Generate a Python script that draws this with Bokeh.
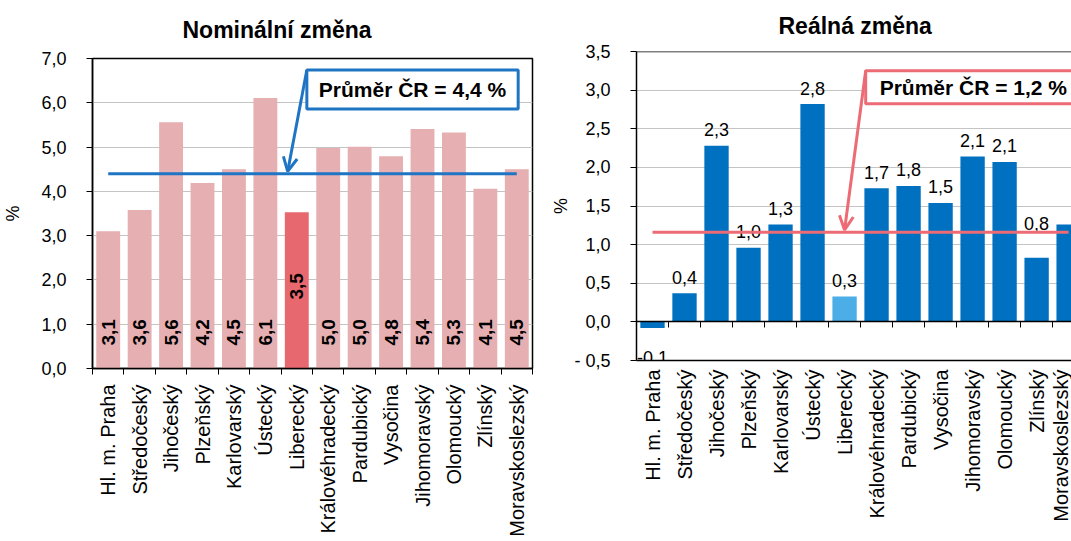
import math
from bokeh.plotting import figure
from bokeh.layouts import row
from bokeh.models import (Range1d, FixedTicker, LinearAxis, Span, Label, Arrow,
                          OpenHead, ColumnDataSource)
from bokeh.core.properties import value
from bokeh.embed import file_html
from bokeh.resources import INLINE

# ---------------- data ----------------
regions = ["Hl. m. Praha", "Středočeský", "Jihočeský", "Plzeňský", "Karlovarský",
           "Ústecký", "Liberecký", "Královéhradecký", "Pardubický", "Vysočina",
           "Jihomoravský", "Olomoucký", "Zlínský", "Moravskoslezský"]
nominal = [3.10, 3.58, 5.56, 4.19, 4.50, 6.11, 3.53, 4.98, 5.01, 4.79, 5.41, 5.33, 4.06, 4.50]
real = [-0.08, 0.37, 2.28, 0.96, 1.26, 2.82, 0.33, 1.73, 1.76, 1.54, 2.14, 2.07, 0.83, 1.26]
nominal_avg = 4.4
real_avg = 1.16
highlight = "Liberecký"
nominal_ticks = [0, 1, 2, 3, 4, 5, 6, 7]
real_ticks = [-0.5, 0.0, 0.5, 1.0, 1.5, 2.0, 2.5, 3.0, 3.5]
title_nominal = "Nominální změna"
title_real = "Reálná změna"

# ---------------- style ----------------
FONT = "Liberation Sans"
PINK = "#E6AFB2"
PINK_HI = "#E8686F"
BLUE = "#0070C0"
BLUE_HI = "#4BAEE6"
AVG_BLUE = "#1F75C4"
AVG_RED = "#EC6B74"
GRID = "#C4C4C4"
BAR_W = 0.76
label_lift = {"Zlínský": 18}

def fmt(v):
    return f"{v:.1f}".replace(".", ",")

def fmt_tick(v):
    return ("- " + fmt(abs(v))) if v < 0 else fmt(v)

n = len(regions)
idx = list(range(n))
hi = regions.index(highlight)
bounds = [i - 0.5 for i in range(n + 1)]


def style_common(p, yticks, title_offset, title_standoff):
    p.title.text_font = FONT
    p.title.text_font_size = "23px"
    p.title.text_font_style = "bold"
    p.title.text_color = "black"
    p.title.align = "left"
    p.title.offset = title_offset
    p.title.vertical_align = "top"
    p.title.standoff = title_standoff
    p.xgrid.visible = False
    p.ygrid.grid_line_color = GRID
    p.ygrid.grid_line_width = 1

    ya = p.yaxis[0]
    ya.ticker = FixedTicker(ticks=yticks)
    ya.major_label_overrides = {t: fmt_tick(t) for t in yticks}
    ya.major_label_text_font = FONT
    ya.major_label_text_font_size = "18px"
    ya.major_label_text_color = "black"
    ya.major_label_standoff = 20
    ya.major_tick_out = 6
    ya.major_tick_in = 0
    ya.minor_tick_out = 0
    ya.minor_tick_in = 0
    ya.major_tick_line_color = "black"
    ya.axis_line_color = "black"
    ya.axis_line_width = 1.5
    ya.axis_label = "%"
    ya.axis_label_text_font = FONT
    ya.axis_label_text_font_size = "18px"
    ya.axis_label_text_font_style = "normal"
    ya.axis_label_text_color = "black"

    xa = p.xaxis[0]
    xa.ticker = FixedTicker(ticks=idx, minor_ticks=bounds)
    xa.major_label_overrides = {i: r for i, r in enumerate(regions)}
    xa.major_label_orientation = math.pi / 2
    xa.major_label_text_font = FONT
    xa.major_label_text_font_size = "20px"
    xa.major_label_text_color = "black"
    xa.major_tick_out = 0
    xa.major_tick_in = 0
    xa.minor_tick_in = 0
    xa.axis_line_color = "black"
    xa.axis_line_width = 1.5


# ================= left: nominal =================
p1 = figure(width=548, height=541, x_range=Range1d(-0.5, n - 0.5), y_range=Range1d(0, 7),
            output_backend="svg", toolbar_location=None, frame_align=False, title=title_nominal,
            min_border_left=92, min_border_right=16, min_border_top=58, min_border_bottom=173)
style_common(p1, nominal_ticks, 90, 28)
p1.yaxis[0].axis_label_standoff = 15
p1.xaxis[0].minor_tick_out = 6
p1.xaxis[0].minor_tick_line_color = "black"
p1.xaxis[0].major_label_standoff = 10
p1.outline_line_color = "black"
p1.outline_line_width = 1.5

src1 = ColumnDataSource(dict(
    x=idx, top=nominal,
    color=[PINK_HI if r == highlight else PINK for r in regions]))
p1.vbar(x="x", top="top", bottom=0, width=BAR_W, fill_color="color", line_color=None, source=src1)

base_i = [i for i in idx if i != hi]
src1b = ColumnDataSource(dict(x=base_i, y=[0] * len(base_i), t=[fmt(nominal[i]) for i in base_i]))
p1.text(x="x", y="y", text="t", source=src1b, angle=math.pi / 2, text_align="left",
        text_baseline="middle", y_offset=-23, text_font=value(FONT), text_font_style="bold",
        text_font_size="19px", text_color="black")
src1h = ColumnDataSource(dict(x=[hi], y=[nominal[hi] / 2], t=[fmt(nominal[hi])]))
p1.text(x="x", y="y", text="t", source=src1h, angle=math.pi / 2, text_align="center",
        text_baseline="middle", y_offset=-4, text_font=value(FONT), text_font_style="bold",
        text_font_size="19px", text_color="black")

p1.line(x=idx, y=[nominal_avg] * n, line_color=AVG_BLUE, line_width=3)

p1.add_layout(Arrow(start=None, end=OpenHead(size=14, line_color=AVG_BLUE, line_width=3),
                    x_start=6.32, y_start=6.74, x_end=5.71, y_end=4.45,
                    line_color=AVG_BLUE, line_width=3))
p1.add_layout(Label(x=6.32, y=6.74, anchor="top_left",
                    text=f"Průměr ČR = {fmt(nominal_avg)} %", text_font=FONT,
                    text_font_size="21px", text_font_style="bold", text_color="black",
                    padding=(12, 8), border_line_color=AVG_BLUE, border_line_width=3,
                    background_fill_color="white"))

# ================= right: real =================
real_view_end = 13.09
p2 = figure(width=523, height=541, x_range=Range1d(-0.5, real_view_end),
            y_range=Range1d(-0.5, 3.5), frame_align=False, title=title_real,
            output_backend="svg", toolbar_location=None,
            min_border_left=84, min_border_right=0, min_border_top=51, min_border_bottom=181)
style_common(p2, real_ticks, 142, 22)
p2.yaxis[0].axis_label_standoff = 0
p2.xaxis[0].minor_tick_out = 0
p2.xaxis[0].major_label_standoff = 9
p2.outline_line_color = None
p2.add_layout(Span(location=3.5, dimension="width", line_color="black", line_width=1.5))

zero_axis = LinearAxis(fixed_location=0, ticker=FixedTicker(ticks=[], minor_ticks=bounds),
                       axis_line_color="black", axis_line_width=1.5,
                       major_tick_out=0, major_tick_in=0, minor_tick_out=6, minor_tick_in=0,
                       minor_tick_line_color="black", major_label_text_font_size="0px")
p2.add_layout(zero_axis, "below")

src2 = ColumnDataSource(dict(
    x=idx, top=real,
    color=[BLUE_HI if r == highlight else BLUE for r in regions]))
p2.vbar(x="x", top="top", bottom=0, width=BAR_W, fill_color="color", line_color=None, source=src2)

vis = [i for i in idx if i <= real_view_end - 0.5]
pos = [i for i in vis if real[i] >= 0]
neg = [i for i in vis if real[i] < 0]
src2p = ColumnDataSource(dict(x=pos, y=[real[i] for i in pos], t=[fmt(real[i]) for i in pos],
                              off=[-16 - label_lift.get(regions[i], 0) for i in pos]))
p2.text(x="x", y="y", text="t", source=src2p, y_offset="off", text_align="center",
        text_baseline="alphabetic", text_font=value(FONT), text_font_size="18px",
        text_color="black")
src2n = ColumnDataSource(dict(x=neg, y=[real[i] for i in neg], t=[fmt(real[i]) for i in neg]))
p2.text(x="x", y="y", text="t", source=src2n, y_offset=29, text_align="center",
        text_baseline="alphabetic", text_font=value(FONT), text_font_size="18px",
        text_color="black")

p2.line(x=idx, y=[real_avg] * n, line_color=AVG_RED, line_width=3)

p2.add_layout(Arrow(start=None, end=OpenHead(size=14, line_color=AVG_RED, line_width=3),
                    x_start=6.66, y_start=3.25, x_end=6.0, y_end=1.19,
                    line_color=AVG_RED, line_width=3))
p2.add_layout(Label(x=6.66, y=3.25, anchor="top_left",
                    text=f"Průměr ČR = {fmt(real_avg)} %", text_font=FONT,
                    text_font_size="21px", text_font_style="bold", text_color="black",
                    padding=(14, 5), border_line_color=AVG_RED, border_line_width=3,
                    background_fill_color="white"))

layout = row(p1, p2)
open("out.html", "w").write(file_html(layout, INLINE))
